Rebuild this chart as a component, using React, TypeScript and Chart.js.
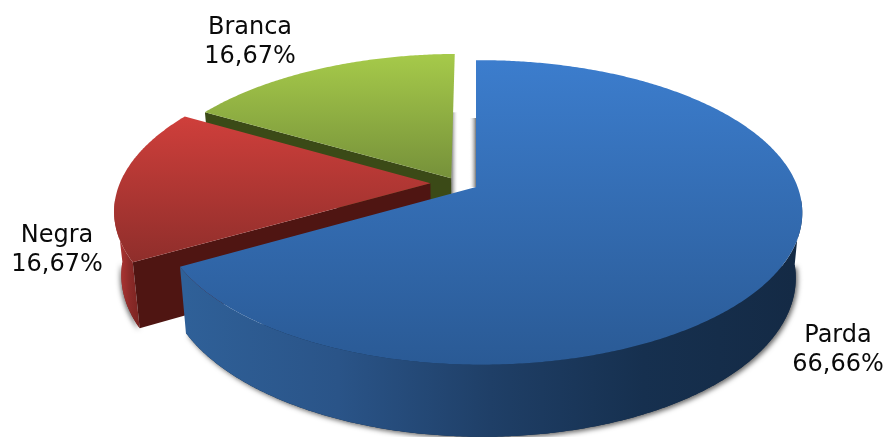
import React, { useEffect, useRef } from "react";
import { Chart, registerables } from "chart.js";

Chart.register(...registerables);

const categories = ["Parda", "Negra", "Branca"];
const shares = [66.66, 16.67, 16.67];
const explode = [0, 27, 27];

const WIDTH = 887;
const HEIGHT = 437;

// Projective "camera" that lays the pie's ground plane into the picture
const CAM = { ax: 476, ay: 187, A: 317.3, B: 148, k: 0.167, g: -0.0135, H: 63, s: 0.98, vSquash: 0.3, liftV: 0.025, liftU: 0.013 };

const STYLE = [
  { topA: "#3c7dcd", topB: "#2a5a95", wallStops: ["#2f6098", "#2a5488", "#1f3f67", "#16304f", "#142a45"], radial: "#1c3a5e" },
  { topA: "#cf3f3b", topB: "#8f2e2b", wallStops: ["#a83331", "#8a2a28", "#7a2421"], radial: "#4f1512" },
  { topA: "#a6ca4a", topB: "#76913a", wallStops: ["#66802c", "#566d24"], radial: "#3b4a17" },
];

const LABEL_POS = [
  { x: 838, y: 342 },
  { x: 57, y: 242 },
  { x: 250, y: 34 },
];
const LINE_HEIGHT = 29;

type P = { x: number; y: number };

function project(u: number, v: number, bottom: boolean): P {
  const w = 1 + CAM.g * u - CAM.k * v;
  const s = bottom ? CAM.s : 1;
  return {
    x: CAM.ax + (s * CAM.A * u) / w,
    y: CAM.ay + (s * CAM.B * v) / w + (bottom ? CAM.H / w : 0),
  };
}

function tracePoly(ctx: CanvasRenderingContext2D, pts: P[]) {
  ctx.beginPath();
  pts.forEach((p, i) => (i ? ctx.lineTo(p.x, p.y) : ctx.moveTo(p.x, p.y)));
  ctx.closePath();
}

function pie3d(chart: any) {
  const ctx: CanvasRenderingContext2D = chart.ctx;
  const arcs = chart.getDatasetMeta(0).data;

  const geo = arcs.map((el: any) => {
    const { startAngle, endAngle, outerRadius } = el.getProps(["startAngle", "endAngle", "outerRadius"], true);
    const d = (el.options.offset || 0) / outerRadius;
    const mid = (startAngle + endAngle) / 2;
    const ou = d * Math.cos(mid) - (d > 0 ? CAM.liftU : 0);
    const ov = d * Math.sin(mid) * CAM.vSquash - (d > 0 ? CAM.liftV : 0);
    const n = Math.max(8, Math.ceil(((endAngle - startAngle) * 360) / Math.PI));
    const ring: { u: number; v: number }[] = [];
    for (let i = 0; i <= n; i++) {
      const t = startAngle + ((endAngle - startAngle) * i) / n;
      ring.push({ u: ou + Math.cos(t), v: ov + Math.sin(t) });
    }
    return { ou, ov, ring };
  });

  // soft shadows thrown into the gap between the exploded slices
  const strip = (x: number, y0: number, y1: number, dir: number) => {
    const g = ctx.createLinearGradient(x, 0, x + dir * 7, 0);
    g.addColorStop(0, "rgba(110,110,110,0.95)");
    g.addColorStop(1, "rgba(255,255,255,0)");
    ctx.fillStyle = g;
    ctx.fillRect(Math.min(x, x + dir * 7), y0, 7, y1 - y0);
  };
  const a2 = project(geo[2].ou, geo[2].ov, false);
  const a0 = project(geo[0].ou, geo[0].ov, false);
  strip(a2.x, a2.y - 66, a2.y + 16, 1);
  strip(a0.x, a0.y - 69, a0.y, -1);

  [2, 1, 0].forEach((i) => {
    const { ou, ov, ring } = geo[i];
    const st = STYLE[i];
    const topRing = ring.map((r: any) => project(r.u, r.v, false));
    const botRing = ring.map((r: any) => project(r.u, r.v, true));
    const apexT = project(ou, ov, false);
    const apexB = project(ou, ov, true);

    // rim wall: only the part that faces the viewer
    const front = ring.map((r: any, j: number) => (r.v > 0.08 ? j : -1)).filter((j: number) => j >= 0);
    if (front.length > 1) {
      const topF = front.map((j: number) => topRing[j]);
      const botF = front.map((j: number) => botRing[j]);
      const xs = botF.map((p: P) => p.x);
      const minX = Math.min(...xs);
      const maxX = Math.max(...xs);
      const wg = ctx.createLinearGradient(minX, 0, maxX, 0);
      st.wallStops.forEach((c, j) => wg.addColorStop(j / (st.wallStops.length - 1), c));
      // the drop shadow comes from the lower edge only
      ctx.save();
      ctx.shadowColor = "rgba(0,0,0,0.6)";
      ctx.shadowBlur = 5;
      ctx.shadowOffsetX = i === 0 ? 2 : -1;
      ctx.shadowOffsetY = 2;
      ctx.fillStyle = st.wallStops[st.wallStops.length - 1];
      tracePoly(ctx, botF);
      ctx.fill();
      ctx.restore();
      ctx.fillStyle = wg;
      tracePoly(ctx, [...topF, ...botF.slice().reverse()]);
      ctx.fill();
    }

    // radial wall on the near side; Parda's is hidden below its own top face
    ctx.fillStyle = st.radial;
    tracePoly(ctx, [apexT, topRing[0], botRing[0], apexB]);
    ctx.fill();

    // top face
    const pts = [apexT, ...topRing];
    const ys = pts.map((p) => p.y);
    const tg = ctx.createLinearGradient(0, Math.min(...ys), 0, Math.max(...ys));
    tg.addColorStop(0, st.topA);
    tg.addColorStop(1, st.topB);
    ctx.fillStyle = tg;
    tracePoly(ctx, pts);
    ctx.fill();
  });

  // labels
  ctx.save();
  ctx.font = '24px "DejaVu Sans"';
  ctx.fillStyle = "#0a0a0a";
  ctx.textAlign = "center";
  ctx.textBaseline = "alphabetic";
  categories.forEach((name, i) => {
    const p = LABEL_POS[i];
    ctx.fillText(name, p.x, p.y);
    ctx.fillText(shares[i].toFixed(2).replace(".", ",") + "%", p.x, p.y + LINE_HEIGHT);
  });
  ctx.restore();
  return false;
}

export default function App() {
  const ref = useRef<HTMLCanvasElement>(null);
  useEffect(() => {
    const chart = new Chart(ref.current as HTMLCanvasElement, {
      type: "pie",
      data: {
        labels: categories,
        datasets: [
          {
            data: shares,
            offset: explode,
            backgroundColor: ["#2f66a8", "#b03633", "#8dab41"],
            borderWidth: 0,
          },
        ],
      },
      options: {
        responsive: false,
        animation: false,
        plugins: { legend: { display: false }, tooltip: { enabled: false } },
      },
      plugins: [{ id: "pie3d", beforeDatasetsDraw: pie3d }],
    } as any);
    return () => chart.destroy();
  }, []);
  return (
    <div style={{ position: "absolute", left: 0, top: 0, width: WIDTH, height: HEIGHT, background: "#fff" }}>
      <canvas ref={ref} width={WIDTH} height={HEIGHT} style={{ display: "block" }} />
    </div>
  );
}
